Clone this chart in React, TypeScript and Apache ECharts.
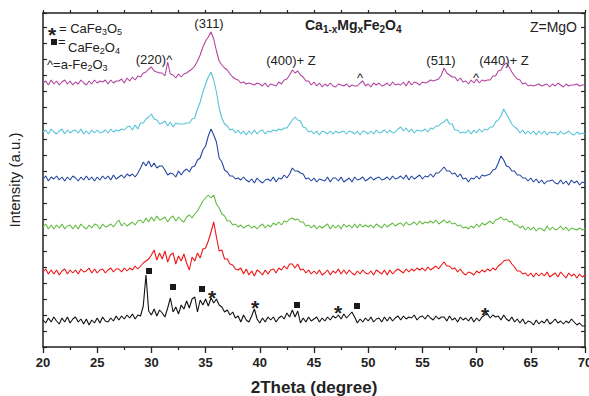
import React, { useEffect, useRef } from "react";
import * as echarts from "echarts";

// 2Theta scan grid
const thetaStart = 20;
const thetaStep = 0.25;

// intensity above each pattern's own baseline (a.u.), one value every 0.25 deg from 20 to 70
const black = [
  0, -3, 2, -2, 3, -1, -4, 2, -2, 3, -3, 1, 3, -2, 1, -4, 1, -5, 0, -3,
  2, -3, 3, -1, -2, 2, -1, 4, 0, 4, 1, 5, 2, 6, 1, 5, 4, 14, 45, 9,
  5, 11, 4, 10, 7, 3, 12, 22, 8, 13, 6, 15, 11, 19, 12, 21, 23, 8, 20, 15,
  21, 14, 22, 17, 21, 15, 13, 8, 10, 5, 8, 2, 4, -2, 5, 0, -2, 4, 11, 1,
  -3, 2, -2, 3, 0, 3, -2, 2, 4, 1, 7, 3, 10, 3, 9, -3, 2, -2, 3, -1,
  1, 3, -2, 2, -1, 3, 0, 4, 2, 5, 1, 6, 2, 5, 8, 3, -3, 1, -2, 2,
  -1, 3, -2, 1, 2, -2, 3, -1, 3, -1, 2, 4, 0, 4, 1, 3, 2, 5, 0, 3,
  4, 1, 5, 2, 0, 4, 1, 3, 3, -1, 4, 0, 2, -2, 3, 0, 2, -1, 3, -2,
  2, -1, 3, 5, 6, 2, 5, 3, 4, 0, 5, 1, -1, 3, -2, 1, -3, 1, -4, -1,
  -2, -5, 0, -4, -1, -3, 1, -4, -2, 1, -3, -1, -4, -1, -3, 1, -2, -5, -3, -6,
  -6,
];
const red = [
  0, 3, -2, 2, -2, 2, -3, 1, 3, -2, 2, -1, 2, -2, 3, 0, 1, 4, -1, 3,
  -1, 2, 3, -1, 2, 4, 0, 3, 3, 0, 4, 1, 4, 2, 6, 3, 6, 9, 11, 13,
  17, 22, 12, 19, 13, 21, 10, 17, 19, 8, 16, 11, 18, 9, 2, 15, 11, 19, 14, 23,
  24, 31, 40, 50, 35, 21, 22, 13, 13, 8, 7, 3, 2, 4, -2, 3, -3, 1, -4, 2,
  0, -3, 2, -2, 2, 3, -1, 4, 2, 6, 3, 8, 8, 4, 8, 2, 3, -1, 2, -2,
  1, -2, 2, -3, -1, 2, -3, 1, -1, 3, -2, 2, -2, 2, -1, -3, 1, -2, 2, -1,
  -2, 1, -3, 2, 0, -2, 2, -3, 2, -2, 1, 3, 1, -1, 3, 0, 3, 1, 4, 2,
  4, 1, 5, 2, 4, 6, 3, 7, 10, 6, 6, 3, 4, 0, 3, -1, -3, 0, -1, -3,
  1, -1, 2, 0, 3, 1, 4, 2, 6, 8, 11, 12, 12, 8, 5, 1, 1, -2, -1, -4,
  -1, -5, -1, -4, -1, -4, 0, -5, -3, -1, -5, 0, -3, -6, -1, -4, -2, -6, -2, -5,
  -3,
];
const green = [
  0, 3, -2, 2, -2, 2, -1, 3, -2, 1, 2, -2, 2, -2, 3, 0, -2, 2, -1, 3,
  2, -2, 3, 0, 1, 3, 0, 4, 7, 1, 4, 1, 3, 5, 2, 6, 7, 4, 9, 5,
  10, 6, 11, 7, 8, 10, 5, 9, 11, 6, 10, 7, 5, 10, 12, 9, 13, 16, 21, 26,
  29, 32, 29, 32, 23, 19, 13, 11, 6, 6, 2, 3, 0, 2, -1, 1, 2, -1, 1, -2,
  1, 3, -1, 2, 0, 4, 2, 5, 2, 6, 5, 8, 9, 7, 8, 5, 5, 1, 2, -1,
  2, -2, 1, -1, 1, 3, -2, 2, -1, 2, -2, 3, 0, 2, -1, 3, -1, 3, 0, 2,
  0, 2, -1, 3, 1, -1, 3, 0, 2, 4, 1, 3, 4, 1, 5, 2, 3, 5, 2, 6,
  3, 5, 4, 6, 4, 7, 3, 5, 7, 4, 6, 3, 4, 1, 2, -1, 0, -2, 1, -1,
  3, 0, 4, 2, 4, 6, 3, 7, 8, 10, 7, 8, 5, 6, 2, 2, -1, 1, -3, 0,
  -3, 0, -4, -1, -2, -4, 1, -3, 0, -3, -2, 1, -3, 0, -4, -1, -2, -3, -1, -3,
  -2,
];
const blue = [
  0, 3, -2, 2, 0, 3, -1, 2, -2, 2, -1, 3, 1, -2, 2, -1, 3, -1, 2, -2,
  2, -1, 3, 0, 3, -1, 4, 0, 2, 4, 1, 5, 3, 5, 2, 6, 11, 17, 13, 18,
  12, 16, 11, 13, 13, 9, 4, 6, 5, 2, 8, 4, 8, 10, 7, 12, 13, 19, 21, 29,
  33, 43, 50, 44, 37, 21, 17, 9, 7, 3, 3, 0, 1, -1, 2, -1, -3, 0, -4, 1,
  -2, -4, -1, 0, -2, 2, -3, 1, 0, 4, 1, 5, 11, 8, 8, 6, 5, 0, 1, -2,
  1, -3, 0, -1, -2, 2, -3, 1, 1, -2, 2, -3, -1, 1, -3, 2, -1, 0, 2, -2,
  0, 2, -1, 1, 2, -1, 0, 2, -1, 3, 0, 1, 3, 0, 4, -1, 3, 0, 2, 4,
  0, 3, 2, 5, 2, 6, 6, 9, 12, 8, 8, 5, 6, 2, 5, 0, 1, -3, 1, 0,
  3, 0, 4, 3, 4, 5, 9, 10, 16, 23, 19, 13, 12, 8, 8, 4, 4, 1, 1, -2,
  1, -3, 0, -4, -1, -5, -2, -2, -1, -4, -5, -1, -5, -2, -6, -1, -4, -2, -6, -3,
  -4,
];
const cyan = [
  0, 2, -2, 3, 0, -2, 1, 3, -2, 2, -1, 1, 2, -1, 3, -2, 1, -2, 2, -1,
  2, -1, 0, 2, -1, 3, 0, 2, 1, 3, 2, 5, 6, 2, 7, 3, 9, 9, 13, 15,
  18, 13, 12, 8, 9, 11, 6, 10, 5, 9, 8, 8, 8, 9, 9, 13, 14, 23, 30, 40,
  48, 55, 60, 52, 40, 24, 14, 8, 6, 2, 3, -1, 2, -2, 1, -3, 1, -2, 2, -2,
  1, 2, -2, 1, 0, 2, 1, 3, 2, 4, 4, 8, 12, 15, 12, 11, 5, 4, 0, 1,
  -2, 1, -3, 1, 0, -2, 1, -2, 1, -1, 0, 1, -2, 1, 0, -2, 1, -3, 1, 0,
  -2, 1, -2, 2, -1, 0, 2, -1, 2, -1, 0, 3, 5, 1, 4, 0, 3, -1, 2, 1,
  1, 3, 0, 4, 3, 6, 6, 9, 10, 13, 8, 8, 2, 2, -1, 0, -1, 2, -2, 2,
  -1, 3, 0, 3, 2, 5, 5, 10, 12, 16, 23, 18, 13, 8, 5, 3, -1, 2, -2, 1,
  -2, 1, -3, 1, -2, 1, -3, 0, -1, 0, -3, 1, -2, -1, 1, -2, -3, 0, -2, -1,
  -2,
];
const magenta = [
  0, 2, -2, 3, -1, 2, -2, 1, 3, -1, 2, -2, 1, -1, 3, 0, -2, 2, -1, 3,
  0, 2, 1, 3, -1, 3, 0, 2, 2, 4, 0, 5, 2, 6, 3, 7, 6, 10, 11, 14,
  16, 12, 11, 10, 10, 7, 21, 9, 8, 5, 9, 6, 9, 10, 12, 14, 17, 22, 28, 36,
  42, 46, 51, 44, 32, 22, 18, 15, 13, 9, 6, 4, 3, 0, 1, -1, 0, -1, -2, 0,
  -1, -3, 0, -4, -1, -2, -3, 1, -1, 3, 4, 8, 13, 10, 12, 8, 6, 2, 2, -2,
  1, -3, 0, -4, -1, -3, 0, -3, -4, -1, -2, -3, -1, -4, -2, -3, -3, 0, 2, -3,
  -1, -4, 0, -2, 0, -3, -2, 0, -3, 1, -2, -1, -2, 1, -3, 2, -2, 1, 0, -2,
  1, 0, 1, 3, 2, 3, 4, 8, 15, 10, 8, 6, 6, 2, 5, 1, 2, -1, 3, 0,
  4, 0, 3, 2, 3, 3, 7, 7, 12, 13, 18, 20, 16, 11, 7, 4, 3, -1, 0, -3,
  -2, -3, -2, -1, -3, -2, -1, -4, -1, -3, 0, -2, -4, -1, -3, -2, -2, -1, -3, -2,
  -2,
];

// vertical stacking offset of each pattern (a.u.)
const patterns = [
  { name: "Pattern 1", values: black, offset: 27, color: "#111111" },
  { name: "Pattern 2", values: red, offset: 75, color: "#f01414" },
  { name: "Pattern 3", values: green, offset: 120, color: "#62ba40" },
  { name: "Pattern 4", values: blue, offset: 168, color: "#2346a0" },
  { name: "Pattern 5", values: cyan, offset: 215, color: "#56c3d8" },
  { name: "Pattern 6", values: magenta, offset: 264, color: "#b2449e" },
];

const xTicks = [20, 25, 30, 35, 40, 45, 50, 55, 60, 65, 70];

const FONT = '"Liberation Sans", Arial, Helvetica, sans-serif';
const TXT = "#222222";

function toPoints(vals: number[], offset: number) {
  return vals.map((v, i) => [thetaStart + i * thetaStep, v + offset]);
}

let measureCtx: CanvasRenderingContext2D | null = null;
function textWidth(t: string, size: number, weight: string) {
  if (!measureCtx) measureCtx = document.createElement("canvas").getContext("2d");
  if (!measureCtx) return t.length * size * 0.55;
  measureCtx.font = `${weight} ${size}px ${FONT}`;
  return measureCtx.measureText(t).width;
}

function label(text: string, x: number, y: number, size = 13, align = "center", weight = "normal") {
  return {
    type: "text",
    x,
    y,
    z: 100,
    style: {
      text,
      fill: TXT,
      fontSize: size,
      fontFamily: FONT,
      fontWeight: weight,
      align,
      verticalAlign: "middle",
    },
  };
}

// "CaFe{2}O{4}": parts in braces are drawn as subscripts
function formula(src: string, x: number, y: number, size: number, weight = "normal") {
  const parts = src.split(/(\{[^}]*\})/).filter((p) => p.length > 0);
  const subSize = size - 4;
  const els: any[] = [];
  let cx = x;
  for (const p of parts) {
    const isSub = p.startsWith("{");
    const t = isSub ? p.slice(1, -1) : p;
    const fs = isSub ? subSize : size;
    els.push(label(t, cx, isSub ? y + size * 0.33 : y, fs, "left", weight));
    cx += textWidth(t, fs, weight);
  }
  return els;
}

function square(cx: number, cy: number, s = 6) {
  return {
    type: "rect",
    z: 100,
    shape: { x: cx - s / 2, y: cy - s / 2, width: s, height: s },
    style: { fill: "#1a1a1a" },
  };
}

function star(cx: number, cy: number) {
  return label("*", cx, cy + 5, 21, "center", "bold");
}

export default function App() {
  const ref = useRef<HTMLDivElement>(null);
  useEffect(() => {
    if (!ref.current) return;
    const chart = echarts.init(ref.current, undefined, { renderer: "svg" });
    const axisLine = { show: true, onZero: false, lineStyle: { color: "#222", width: 1.5 } };
    chart.setOption({
      animation: false,
      backgroundColor: "#ffffff",
      grid: { left: 43, right: 4, top: 13, bottom: 49, containLabel: false, outerBoundsMode: "none" },
      xAxis: [
        {
          type: "value",
          position: "bottom",
          min: 20,
          max: 70,
          interval: 5,
          axisLine,
          axisTick: { show: true, inside: false, length: 6, lineStyle: { color: "#222", width: 1.3 } },
          minorTick: { show: true, splitNumber: 2, length: 3, lineStyle: { color: "#222", width: 1.2 } },
          splitLine: { show: false },
          axisLabel: {
            show: true,
            margin: 9,
            fontFamily: FONT,
            fontWeight: "bold",
            fontSize: 13,
            color: TXT,
            customValues: xTicks,
          },
          name: "2Theta (degree)",
          nameLocation: "middle",
          nameGap: 32,
          nameTextStyle: { fontFamily: FONT, fontWeight: "bold", fontSize: 17, color: TXT },
        },
        {
          type: "value",
          position: "top",
          min: 20,
          max: 70,
          interval: 2.5,
          axisLine,
          axisTick: { show: true, inside: false, length: 3, lineStyle: { color: "#222", width: 1.2 } },
          axisLabel: { show: false },
          splitLine: { show: false },
        },
      ],
      yAxis: [
        {
          type: "value",
          position: "left",
          min: 0,
          max: 334,
          interval: 16,
          axisLine,
          axisTick: { show: true, inside: true, length: 4, lineStyle: { color: "#222", width: 1.2 } },
          axisLabel: { show: false },
          splitLine: { show: false },
          name: "Intensity (a.u.)",
          nameLocation: "middle",
          nameGap: 21,
          nameRotate: 90,
          nameTextStyle: { fontFamily: FONT, fontSize: 15, color: TXT },
        },
        {
          type: "value",
          position: "right",
          min: 0,
          max: 334,
          interval: 16,
          axisLine,
          axisTick: { show: true, inside: true, length: 4, lineStyle: { color: "#222", width: 1.2 } },
          axisLabel: { show: false },
          splitLine: { show: false },
        },
      ],
      series: patterns.map((p) => ({
        name: p.name,
        type: "line",
        xAxisIndex: 0,
        yAxisIndex: 0,
        data: toPoints(p.values, p.offset),
        showSymbol: false,
        symbol: "none",
        lineStyle: { color: p.color, width: 1.1 },
        itemStyle: { color: p.color },
        clip: true,
      })),
      graphic: [
        // legend of phases
        label("*", 52, 34, 21, "center", "bold"),
        ...formula("= CaFe{3}O{5}", 59, 28, 13),
        square(54, 42, 6),
        label("=", 58, 41, 13, "left"),
        ...formula("CaFe{2}O{4}", 68, 47, 13),
        ...formula("^=a-Fe{2}O{3}", 47, 64, 13),
        // title & Z
        ...formula("Ca{1-x}Mg{x}Fe{2}O{4}", 305, 25, 14, "bold"),
        label("Z=MgO", 577, 27, 14, "right"),
        // reflections
        label("(220)^", 154, 59, 13, "center"),
        label("(311)", 209, 23, 13, "center"),
        label("(400)+ Z", 291, 60, 13, "center"),
        label("^", 360, 77, 13, "center"),
        label("(511)", 441, 60, 13, "center"),
        label("^", 476, 77, 13, "center"),
        label("(440)+ Z", 504, 60, 13, "center"),
        // phase markers on the bottom pattern
        square(149, 271),
        square(173, 287),
        square(202, 289),
        star(212, 292),
        star(255, 302),
        square(297, 305),
        star(338, 307),
        square(357, 306),
        star(485, 309),
      ],
    });
    return () => chart.dispose();
  }, []);
  return (
    <div
      ref={ref}
      style={{ position: "fixed", left: 0, top: 0, width: 589, height: 396, background: "#fff" }}
    />
  );
}
